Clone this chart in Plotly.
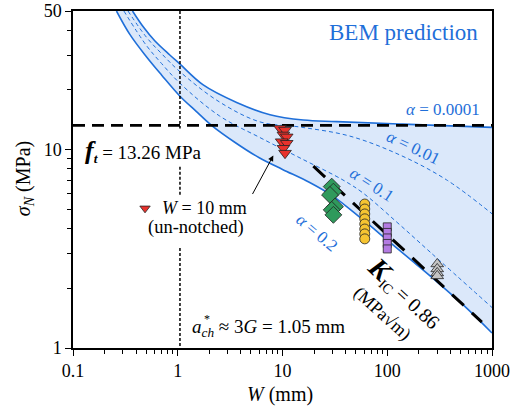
import numpy as np
import plotly.graph_objects as go

# ---------------- data ----------------
# BEM prediction curves (W in mm, sigma_N in MPa)
W_a0001 = [0.37, 0.47, 0.6, 0.84, 1.05, 1.75, 3.65, 7.6, 15.8, 33, 140, 1000]
S_a0001 = [50, 41.5, 35.5, 30.0, 27.0, 21.2, 17.3, 15.0, 14.1, 13.85, 13.45, 12.95]

W_a02 = [0.26, 0.35, 0.5, 0.7, 1.05, 1.5, 2.1, 3.5, 6, 10, 18, 30, 55, 100, 180, 300, 550, 1000]
S_a02 = [50, 38, 29.5, 23.8, 18.6, 15.6, 13.26, 10.9, 9.1, 7.95, 6.85, 5.85, 4.55, 3.5, 2.7, 2.15, 1.62, 1.19]

W_a001 = [0.335, 0.5, 0.7, 1.05, 2.5, 6.1, 14.7, 44, 132, 370, 1000]
S_a001 = [50, 37, 30.5, 24.7, 17.4, 13.8, 13.0, 11.7, 9.4, 7.03, 4.75]

W_a01 = [0.306, 0.5, 0.7, 1.05, 2.5, 6.1, 14.7, 37.8, 58.6, 124, 256, 1000]
S_a01 = [50, 33.6, 27.2, 21.6, 14.8, 11.5, 9.08, 7.03, 6.05, 4.3, 3.05, 1.6]

# tensile strength line and LEFM line
ft = 13.26
W_ft = [0.1, 1000]
W_K = [19.7, 800]
S_K = [8.25, 1.35]

# characteristic length line (with gaps for text)
a_ch = 1.05
S_ach = [50, 12.8, None, 8.21, 5.91, None, 3.19, 1]

# experimental data
W_red = [9.47, 10.57, 10.2, 10.97, 9.82, 10.97, 10.2, 10.57]
S_red = [12.8, 12.55, 11.86, 11.6, 10.97, 10.77, 10.16, 9.6]

W_green = [29.5, 30.6, 28.4, 31.7, 29.5, 30.6]
S_green = [6.51, 6.14, 5.91, 5.16, 4.97, 4.69]

W_yellow = [61, 61, 61, 61, 61, 61, 61, 61]
S_yellow = [5.32, 5.02, 4.74, 4.48, 4.22, 3.98, 3.76, 3.55]

W_purple = [100, 100, 100, 100, 100]
S_purple = [4.08, 3.825, 3.588, 3.366, 3.158]

W_grey = [300, 300, 300, 300]
S_grey = [2.653, 2.504, 2.39, 2.31]

x_ticks = [0.1, 1, 10, 100, 1000]
x_ticktext = ["0.1", "1", "10", "100", "1000"]
y_ticks = [1, 10, 50]
y_ticktext = ["1", "10", "50"]
x_minor = [m * d for d in (0.1, 1, 10, 100) for m in range(2, 10)]
y_minor = [2, 3, 4, 5, 6, 7, 8, 9, 20, 30, 40]

# legend marker & arrow (data coordinates)
leg_W, leg_S = 0.487, 5.06
arrow_head = (8.17, 9.34)

# ---------------- styles ----------------
FONT = "Liberation Serif"
BLUE = "#1f6fd9"
FILL = "#dbe8fa"

fig = go.Figure()

fig.add_trace(go.Scatter(x=W_a0001, y=S_a0001, mode="lines",
                         line=dict(color=BLUE, width=1.6, shape="spline"),
                         hoverinfo="skip"))
fig.add_trace(go.Scatter(x=W_a02, y=S_a02, mode="lines", fill="tonexty",
                         fillcolor=FILL,
                         line=dict(color=BLUE, width=1.6, shape="spline"),
                         hoverinfo="skip"))
for wx, sy in ((W_a001, S_a001), (W_a01, S_a01)):
    fig.add_trace(go.Scatter(x=wx, y=sy, mode="lines",
                             line=dict(color=BLUE, width=1, dash="4px,3px", shape="spline"),
                             hoverinfo="skip"))

# ft line
fig.add_trace(go.Scatter(x=W_ft, y=[ft, ft], mode="lines",
                         line=dict(color="black", width=2.6, dash="12px,7px")))
# a_ch line
fig.add_trace(go.Scatter(x=[a_ch if s is not None else None for s in S_ach], y=S_ach,
                         mode="lines", connectgaps=False,
                         line=dict(color="black", width=1.5, dash="3px,2px")))
# K_IC line
fig.add_trace(go.Scatter(x=W_K, y=S_K, mode="lines",
                         line=dict(color="black", width=3, dash="16px,11px")))

EDGE = dict(color="#222222", width=0.8)
fig.add_trace(go.Scatter(x=W_red, y=S_red, mode="markers",
                         marker=dict(symbol="triangle-down", size=11, color="#e8322c", line=EDGE)))
fig.add_trace(go.Scatter(x=W_green, y=S_green, mode="markers",
                         marker=dict(symbol="diamond", size=13, color="#2f9a5c", line=EDGE)))
fig.add_trace(go.Scatter(x=W_yellow, y=S_yellow, mode="markers",
                         marker=dict(symbol="circle", size=10, color="#f6c431", line=EDGE)))
fig.add_trace(go.Scatter(x=W_purple, y=S_purple, mode="markers",
                         marker=dict(symbol="square", size=8, color="#b47be2", line=EDGE)))
fig.add_trace(go.Scatter(x=W_grey, y=S_grey, mode="markers",
                         marker=dict(symbol="triangle-up", size=11, color="#c4c4c4", line=EDGE)))
fig.add_trace(go.Scatter(x=[leg_W], y=[leg_S], mode="markers",
                         marker=dict(symbol="triangle-down", size=9, color="#e8322c", line=EDGE)))

ann = []
def txt(text, x, y, size, color="black", angle=0, xanchor="center", yanchor="middle"):
    ann.append(dict(text=text, x=x, y=y, xref="paper", yref="paper", showarrow=False,
                    font=dict(family=FONT, size=size, color=color), textangle=angle,
                    xanchor=xanchor, yanchor=yanchor))

txt("BEM prediction", 0.971, 0.935, 23, BLUE, xanchor="right")
txt("<i>α</i> = 0.0001", 0.976, 0.709, 17, BLUE, xanchor="right")
txt("<i>α</i> = 0.01", 0.8115, 0.5955, 17, BLUE, angle=26)
txt("<i>α</i> = 0.1", 0.713, 0.4866, 17, BLUE, angle=33)
txt("<i>α</i> = 0.2", 0.5816, 0.3433, 17, BLUE, angle=40)
txt("<b><i><span style='font-size:26px'>f</span><sub>t</sub></i></b> = 13.26 MPa",
    0.024, 0.585, 19, xanchor="left")
txt("<i>W</i> = 10 mm", 0.2076, 0.4145, 18, xanchor="left")
txt("(un-notched)", 0.2936, 0.359, 18.5)
txt("<i>a</i><sub><i>ch</i></sub> ≈ 3<i>G</i> = 1.05 mm", 0.279, 0.058, 19, xanchor="left")
txt("*", 0.307, 0.085, 12, xanchor="left")
txt("<b><i><span style='font-size:28px'>K</span></i></b><sub>IC</sub> = 0.86",
    0.792, 0.163, 20, angle=43)
txt("(MPa√m)", 0.7368, 0.1009, 18, angle=42)
txt("<i>W</i> (mm)", 0.494, -0.139, 20)
txt("<i>σ</i><sub><i>N</i></sub> (MPa)", -0.117, 0.504, 20, angle=-90)

ann.append(dict(x=np.log10(arrow_head[0]), y=np.log10(arrow_head[1]), xref="x", yref="y",
                ax=-21.6, ay=40, showarrow=True, arrowhead=2, arrowsize=1.1,
                arrowwidth=1, arrowcolor="black", text=""))

axis_common = dict(type="log", showgrid=False, zeroline=False, showline=True,
                   linecolor="black", linewidth=1.5, mirror=True, automargin=False,
                   ticks="outside", ticklen=6, tickwidth=1.2, tickcolor="black",
                   tickfont=dict(family=FONT, size=18, color="black"))

fig.update_layout(
    width=519, height=417,
    margin=dict(l=73, r=27, t=11, b=69),
    paper_bgcolor="white", plot_bgcolor="white",
    showlegend=False,
    font=dict(family=FONT),
    xaxis=dict(range=[-1, 3], tickvals=x_ticks, ticktext=x_ticktext,
               minor=dict(tickvals=x_minor, ticks="outside", ticklen=4,
                          tickwidth=1, tickcolor="black"),
               **axis_common),
    yaxis=dict(range=[0, np.log10(50)], tickvals=y_ticks, ticktext=y_ticktext,
               minor=dict(tickvals=y_minor, ticks="outside", ticklen=4,
                          tickwidth=1, tickcolor="black"),
               **axis_common),
    annotations=ann,
)

fig.write_html("out.html")
